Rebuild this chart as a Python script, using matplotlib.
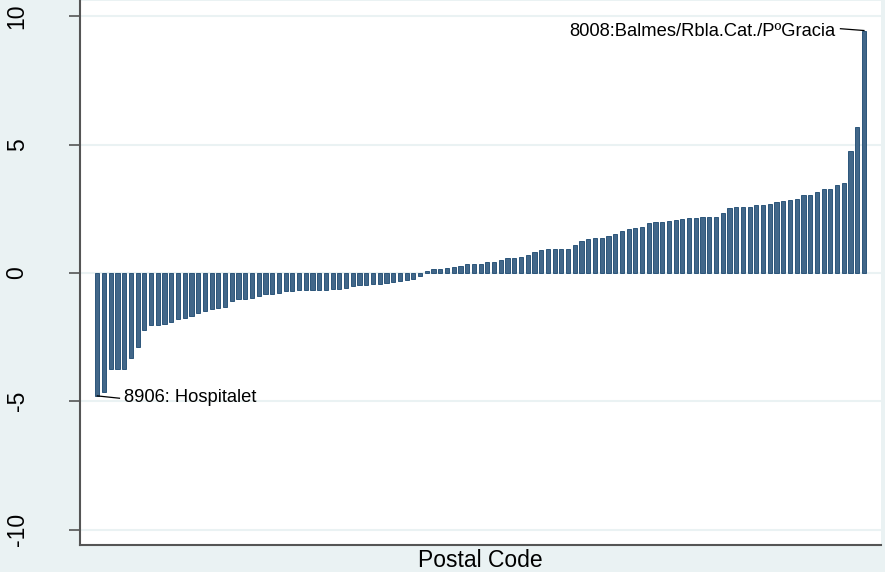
import matplotlib.pyplot as plt
import numpy as np

plt.rcParams['font.family'] = ['Liberation Sans', 'DejaVu Sans']

# difference per postal code, sorted from lowest to highest
values = [
    -4.79, -4.65, -3.74, -3.74, -3.74, -3.31, -2.88, -2.24, -2.04, -2.04,
    -2.00, -1.91, -1.78, -1.74, -1.68, -1.57, -1.48, -1.42, -1.35, -1.32,
    -1.11, -1.03, -1.00, -0.98, -0.90, -0.83, -0.81, -0.77, -0.70, -0.69,
    -0.68, -0.68, -0.68, -0.66, -0.65, -0.63, -0.61, -0.57, -0.51, -0.46,
    -0.46, -0.44, -0.42, -0.38, -0.35, -0.31, -0.27, -0.22, -0.12,
    0.09, 0.14, 0.14, 0.18, 0.23, 0.27, 0.36, 0.36, 0.36, 0.42,
    0.42, 0.50, 0.59, 0.59, 0.61, 0.71, 0.82, 0.90, 0.92, 0.92,
    0.92, 0.94, 1.08, 1.25, 1.33, 1.37, 1.38, 1.45, 1.51, 1.65,
    1.71, 1.76, 1.81, 1.94, 1.98, 1.99, 2.03, 2.07, 2.10, 2.14,
    2.14, 2.18, 2.18, 2.20, 2.32, 2.54, 2.57, 2.59, 2.59, 2.64,
    2.64, 2.70, 2.77, 2.79, 2.85, 2.88, 3.04, 3.04, 3.16, 3.28,
    3.28, 3.41, 3.50, 4.77, 5.68, 9.45,
]
low_label = "8906: Hospitalet"
high_label = "8008:Balmes/Rbla.Cat./P\u00baGracia"
yticks = [-10, -5, 0, 5, 10]

bg = '#eaf2f3'
x = np.arange(1, len(values) + 1)

fig = plt.figure(figsize=(8.85, 5.72), dpi=100, facecolor=bg)
ax = fig.add_axes([80 / 885, 27 / 572, 801 / 885, 544 / 572])
ax.set_facecolor('white')

for t in yticks:
    ax.axhline(t, color=bg, lw=1.5, zorder=0)

ax.bar(x, values, width=0.62, color='#426789', edgecolor='#1a476f', lw=0.6, zorder=2)

ax.set_xlim(-1.57, 117.53)
ax.set_ylim(-10.6, 10.6)
ax.set_yticks(yticks)
ax.set_yticklabels([str(t) for t in yticks], rotation=90, va='center', fontsize=16.5)
ax.tick_params(axis='y', length=8, width=1.2, color='#555555', pad=29)
ax.set_xticks([])
ax.set_xlabel("Postal Code", fontsize=16.5, labelpad=3)

for s in ['top', 'right']:
    ax.spines[s].set_visible(False)
for s in ['left', 'bottom']:
    ax.spines[s].set_color('#555555')
    ax.spines[s].set_linewidth(1.5)

# label the extreme postal codes, with a short leader line to the bar end
ax.plot([x[0], 4.3], [values[0], -4.88], color='black', lw=0.9, zorder=3)
ax.text(4.97, -4.84, low_label, fontsize=13.2, va='center', ha='left')
ax.plot([111.5, x[-1]], [9.52, values[-1]], color='black', lw=0.9, zorder=3)
ax.text(110.8, 9.41, high_label, fontsize=13.2, va='center', ha='right')

fig.savefig('out.png', dpi=100, facecolor=bg)
